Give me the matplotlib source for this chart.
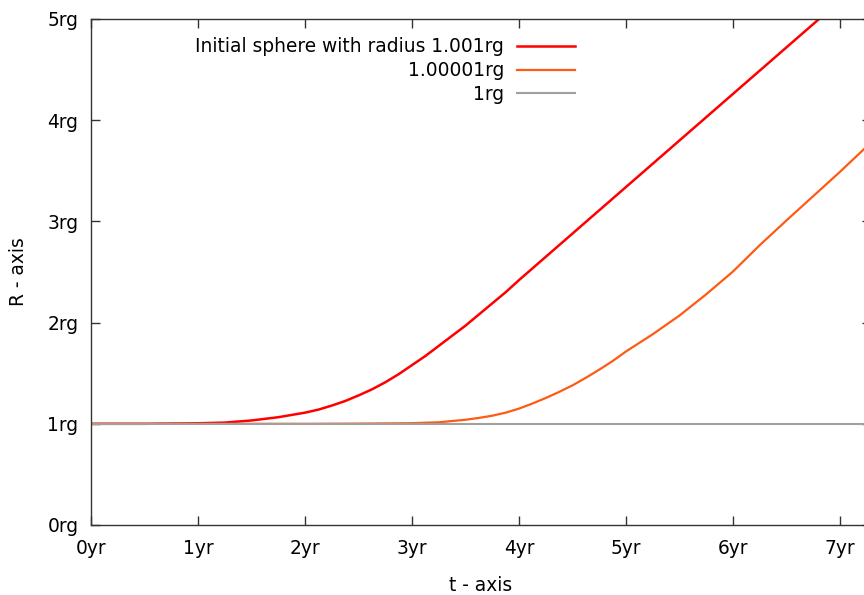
import matplotlib
matplotlib.use("Agg")
import matplotlib.pyplot as plt

# time in years, radius in units of rg
t_red = [0.0, 0.5, 1.0, 1.25, 1.5, 1.75, 2.0, 2.125, 2.25, 2.375, 2.5, 2.625, 2.75,
         2.875, 3.0, 3.125, 3.25, 3.375, 3.5, 3.625, 3.75, 3.875, 4.0, 4.25, 4.5,
         4.75, 5.0, 5.25, 5.5, 5.75, 6.0, 6.25, 6.5, 6.75, 7.0]
r_red = [1.0, 1.0, 1.005, 1.012, 1.033, 1.065, 1.11, 1.14, 1.18, 1.225, 1.28, 1.34, 1.41,
         1.49, 1.58, 1.67, 1.77, 1.87, 1.97, 2.08, 2.19, 2.30, 2.42, 2.65, 2.88,
         3.11, 3.34, 3.57, 3.80, 4.03, 4.26, 4.49, 4.72, 4.95, 5.18]

t_orange = [0.0, 2.0, 2.5, 3.0, 3.25, 3.5, 3.625, 3.75, 3.875, 4.0, 4.125, 4.25, 4.375,
            4.5, 4.625, 4.75, 4.875, 5.0, 5.25, 5.5, 5.75, 6.0, 6.25, 6.5, 6.75,
            7.0, 7.25, 7.4]
r_orange = [1.0, 1.0, 1.002, 1.006, 1.015, 1.04, 1.058, 1.08, 1.11, 1.15, 1.20, 1.255, 1.315,
            1.38, 1.455, 1.535, 1.62, 1.715, 1.885, 2.07, 2.28, 2.505, 2.765, 3.01, 3.25,
            3.49, 3.74, 3.89]

t_gray = [0.0, 7.4]
r_gray = [1.0, 1.0]

labels = ["Initial sphere with radius 1.001rg", "1.00001rg", "1rg"]
xticks = [0, 1, 2, 3, 4, 5, 6, 7]
yticks = [0, 1, 2, 3, 4, 5]

fs = 13.4

fig = plt.figure(figsize=(8.64, 5.95), dpi=100)
ax = fig.add_axes([91 / 864, 1 - 525 / 595, 780 / 864, 506 / 595])

ax.plot(t_red, r_red, color="#ff0000", lw=1.8, label=labels[0])
ax.plot(t_orange, r_orange, color="#ff5a14", lw=1.6, label=labels[1])
ax.plot(t_gray, r_gray, color="#a0a0a0", lw=1.5, label=labels[2])

ax.set_xlim(0, 780 / 107)
ax.set_ylim(0, 5)
ax.set_xticks(xticks)
ax.set_xticklabels([f"{v}yr" for v in xticks])
ax.set_yticks(yticks)
ax.set_yticklabels([f"{v}rg" for v in yticks])
ax.tick_params(direction="in", length=6.5, width=1, top=True, right=True,
               labelsize=fs, color="#333333")
ax.tick_params(axis="x", pad=10)
ax.tick_params(axis="y", pad=9)
for s in ax.spines.values():
    s.set_color("#333333")
    s.set_linewidth(1)

ax.set_xlabel("t - axis", fontsize=fs, labelpad=13)
ax.set_ylabel("R - axis", fontsize=fs, labelpad=14)

leg = ax.legend(loc="upper right", bbox_to_anchor=(584 / 864, 1 - 28 / 595),
                bbox_transform=fig.transFigure, markerfirst=False, frameon=False,
                fontsize=fs, borderpad=0, handlelength=3.1, handletextpad=0.7,
                labelspacing=0.26)

fig.savefig("out.png", dpi=100)
